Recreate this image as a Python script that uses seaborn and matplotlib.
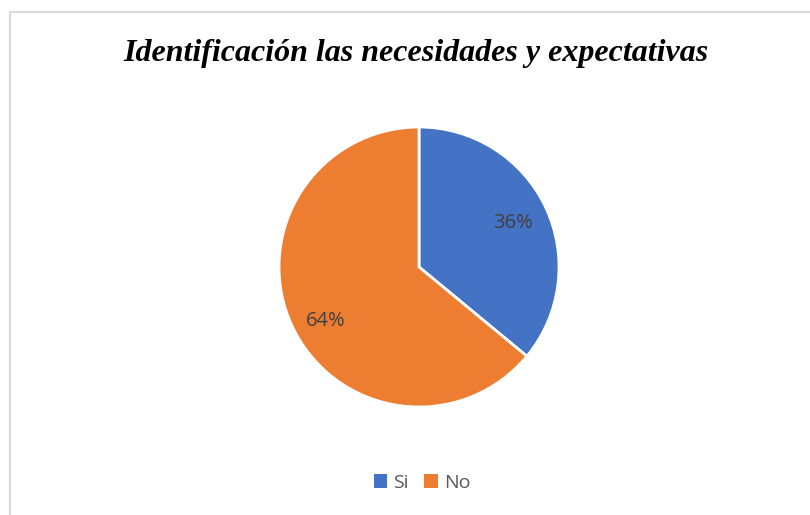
import matplotlib
matplotlib.use("Agg")
import matplotlib.pyplot as plt
from matplotlib.patches import Rectangle, Patch
import seaborn as sns

# data
categories = ["Si", "No"]
values = [36, 64]
colors = ["#4472C4", "#ED7D31"]
title = "Identificación las necesidades y expectativas"

sns.set_theme(style="white")
plt.rcParams["font.family"] = ["Open Sans", "DejaVu Sans"]

W, H = 810, 515
fig = plt.figure(figsize=(W / 100, H / 100), dpi=100)

# chart frame (runs off the right and bottom edges like the source screenshot)
fig.patches.append(Rectangle((9.5 / W, -0.1), 1.2, (H - 11.5) / H + 0.1,
                             transform=fig.transFigure, fill=False,
                             edgecolor="#D9D9D9", linewidth=1.5))

# pie axes: centre (419, 267), radius 140 px
cx, cy, r = 419, 267, 140
ax = fig.add_axes([(cx - r) / W, (H - cy - r) / H, 2 * r / W, 2 * r / H])
wedges, texts, autotexts = ax.pie(
    values, colors=colors, startangle=90, counterclock=False,
    autopct=lambda p: f"{p:.0f}%", pctdistance=0.74,
    wedgeprops=dict(edgecolor="white", linewidth=2),
    textprops=dict(color="#404040", fontsize=14.5))
# Excel drops the big slice's label a little lower
x, y = autotexts[1].get_position()
autotexts[1].set_position((x, y - 0.07))
ax.set_xlim(-1, 1)
ax.set_ylim(-1, 1)
ax.set_aspect("equal")

fig.text(416 / W, 1 - 53 / H, title, ha="center", va="center",
         family=["Liberation Serif", "DejaVu Serif"], fontweight="bold",
         fontstyle="italic", fontsize=23, color="black")

handles = [Patch(facecolor=c, edgecolor="none") for c in colors]
fig.legend(handles, categories, loc="center", bbox_to_anchor=(422 / W, 1 - 483 / H),
           ncol=2, frameon=False, fontsize=14, labelcolor="#595959",
           handlelength=0.7, handleheight=0.7, handletextpad=0.3, columnspacing=0.8)

fig.savefig("out.png", dpi=100, facecolor="white")
